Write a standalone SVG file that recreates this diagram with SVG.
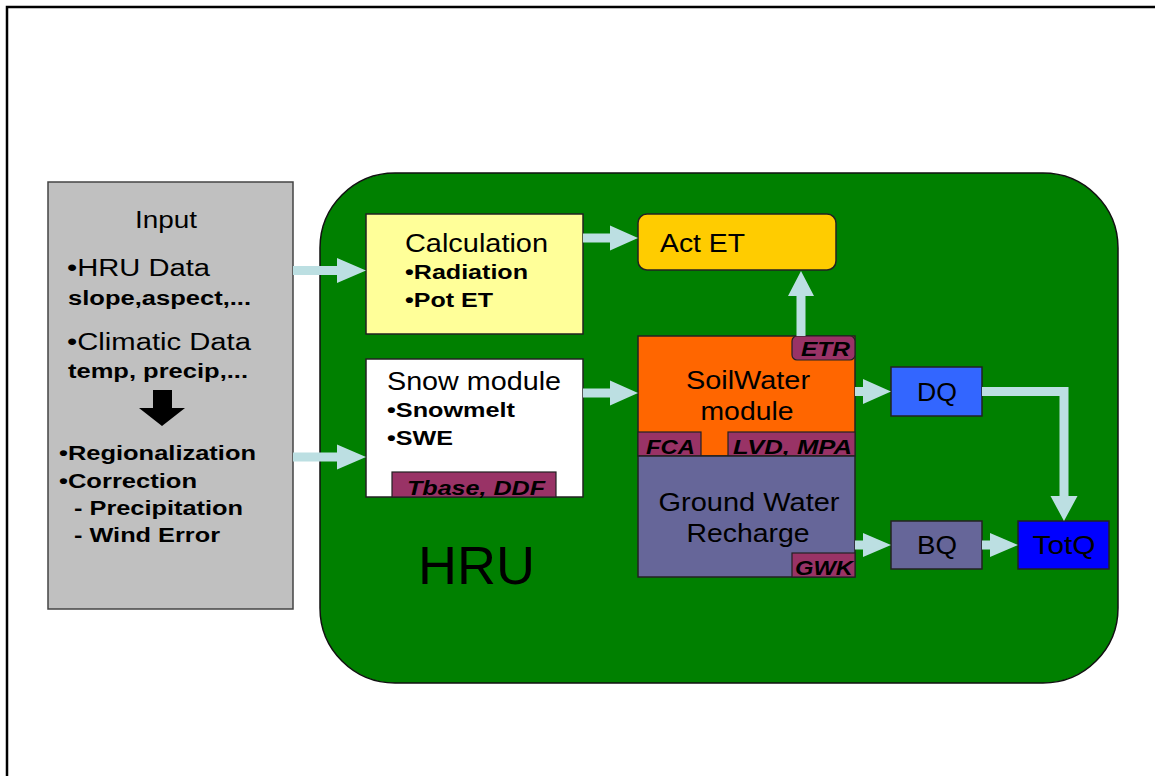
<svg xmlns="http://www.w3.org/2000/svg" width="1155" height="776" viewBox="0 0 1155 776">
<style>
text{font-family:"Liberation Sans",Arial,sans-serif;fill:#000}
.r{font-size:25px}
.rs{font-size:23px}
.b{font-size:20px;font-weight:bold}
.bs{font-size:20px;font-weight:bold}
.tag{fill:#993366;stroke:#222;stroke-width:1.2}
.tt{font-size:21px;font-weight:bold;font-style:italic}
.box{stroke:#222;stroke-width:1.5}
.arr{fill:#BCDFE2;stroke:none}
</style>
<rect x="7" y="7" width="1165" height="800" fill="#fff" stroke="#000" stroke-width="2.5"/>

<g id="input">
<rect x="48" y="182" width="245" height="427" fill="#C0C0C0" stroke="#444" stroke-width="1.5"/>
<text class="rs" x="166" y="228" text-anchor="middle" textLength="62" lengthAdjust="spacingAndGlyphs">Input</text>
<text class="rs" x="67" y="276" textLength="143" lengthAdjust="spacingAndGlyphs">•HRU Data</text>
<text class="bs" x="68" y="305" textLength="183" lengthAdjust="spacingAndGlyphs">slope,aspect,...</text>
<text class="rs" x="67" y="350" textLength="184" lengthAdjust="spacingAndGlyphs">•Climatic Data</text>
<text class="bs" x="68" y="378" textLength="180" lengthAdjust="spacingAndGlyphs">temp, precip,...</text>
<polygon points="153,390 172,390 172,408 185,408 162,426 139,408 153,408" fill="#000"/>
<text class="bs" x="59" y="460" textLength="197" lengthAdjust="spacingAndGlyphs">•Regionalization</text>
<text class="bs" x="59" y="488" textLength="138" lengthAdjust="spacingAndGlyphs">•Correction</text>
<text class="bs" x="74" y="515" textLength="169" lengthAdjust="spacingAndGlyphs">- Precipitation</text>
<text class="bs" x="74" y="542" textLength="146" lengthAdjust="spacingAndGlyphs">- Wind Error</text>
</g>

<g id="hru">
<rect x="320" y="173" width="798" height="510" rx="75" ry="75" fill="#008000" stroke="#111" stroke-width="1.5"/>
<text x="418" y="584" font-size="53" textLength="117" lengthAdjust="spacingAndGlyphs">HRU</text>
</g>

<g id="calculation">
<rect class="box" x="366" y="214" width="217" height="120" fill="#FFFF99"/>
<text class="r" x="405" y="252" textLength="143" lengthAdjust="spacingAndGlyphs">Calculation</text>
<text class="b" x="405" y="279" textLength="123" lengthAdjust="spacingAndGlyphs">•Radiation</text>
<text class="b" x="405" y="307" textLength="88" lengthAdjust="spacingAndGlyphs">•Pot ET</text>
</g>

<g id="snow">
<rect class="box" x="366" y="359" width="217" height="138" fill="#fff"/>
<text class="r" x="387" y="390" textLength="174" lengthAdjust="spacingAndGlyphs">Snow module</text>
<text class="b" x="387" y="417" textLength="128" lengthAdjust="spacingAndGlyphs">•Snowmelt</text>
<text class="b" x="387" y="445" textLength="66" lengthAdjust="spacingAndGlyphs">•SWE</text>
<rect class="tag" x="392" y="472" width="164" height="25"/>
<text class="tt" x="407" y="495" textLength="138" lengthAdjust="spacingAndGlyphs">Tbase, DDF</text>
</g>

<g id="actet">
<rect class="box" x="638" y="214" width="198" height="56" rx="9" ry="9" fill="#FFCC00"/>
<text class="r" x="660" y="252" textLength="85" lengthAdjust="spacingAndGlyphs">Act ET</text>
</g>

<g id="soilwater">
<rect class="box" x="638" y="336" width="217" height="120" fill="#FF6600"/>
<text class="r" x="748" y="389" text-anchor="middle" textLength="124" lengthAdjust="spacingAndGlyphs">SoilWater</text>
<text class="r" x="747" y="420" text-anchor="middle" textLength="93" lengthAdjust="spacingAndGlyphs">module</text>
<rect class="tag" x="792" y="336" width="63" height="24" rx="5" ry="5"/>
<text class="tt" x="801" y="356" textLength="49" lengthAdjust="spacingAndGlyphs">ETR</text>
<rect class="tag" x="638" y="432" width="63" height="24"/>
<text class="tt" x="646" y="454" textLength="49" lengthAdjust="spacingAndGlyphs">FCA</text>
<rect class="tag" x="728" y="432" width="127" height="24"/>
<text class="tt" x="733" y="454" textLength="119" lengthAdjust="spacingAndGlyphs">LVD, MPA</text>
</g>

<g id="groundwater">
<rect class="box" x="638" y="456" width="217" height="121" fill="#666699"/>
<text class="r" x="749" y="511" text-anchor="middle" textLength="181" lengthAdjust="spacingAndGlyphs">Ground Water</text>
<text class="r" x="748" y="542" text-anchor="middle" textLength="123" lengthAdjust="spacingAndGlyphs">Recharge</text>
<rect class="tag" x="792" y="553" width="63" height="24"/>
<text class="tt" x="795" y="575" textLength="58" lengthAdjust="spacingAndGlyphs">GWK</text>
</g>

<g id="dq">
<rect class="box" x="891" y="367" width="91" height="49" fill="#3366FF"/>
<text class="r" x="937" y="401" text-anchor="middle" textLength="40" lengthAdjust="spacingAndGlyphs">DQ</text>
</g>
<g id="bq">
<rect class="box" x="891" y="521" width="91" height="48" fill="#666699"/>
<text class="r" x="937" y="554" text-anchor="middle" textLength="40" lengthAdjust="spacingAndGlyphs">BQ</text>
</g>
<g id="totq">
<rect class="box" x="1018" y="521" width="91" height="48" fill="#0000FF"/>
<text class="r" x="1064" y="554" text-anchor="middle" textLength="63" lengthAdjust="spacingAndGlyphs">TotQ</text>
</g>

<g id="connectors">
<polygon class="arr" points="293,266 337,266 337,258 366,270.5 337,283 337,275 293,275"/>
<polygon class="arr" points="293,452.5 337,452.5 337,444.5 366,457 337,469.5 337,461.5 293,461.5"/>
<polygon class="arr" points="583,233.5 610,233.5 610,225.5 638,238 610,250.5 610,242.5 583,242.5"/>
<polygon class="arr" points="583,388.5 610,388.5 610,380.5 638,393 610,405.5 610,397.5 583,397.5"/>
<polygon class="arr" points="796.5,336 796.5,296 788,296 801,271 814,296 805.5,296 805.5,336"/>
<polygon class="arr" points="855,387 863,387 863,379 891,391.5 863,404 863,396 855,396"/>
<polygon class="arr" points="982,387 1068.5,387 1068.5,496 1077.5,496 1064,521 1050.5,496 1059.5,496 1059.5,396 982,396"/>
<polygon class="arr" points="855,540.5 863,540.5 863,533 891,545 863,557 863,549.5 855,549.5"/>
<polygon class="arr" points="982,540.5 990,540.5 990,533 1018,545 990,557 990,549.5 982,549.5"/>
</g>
</svg>
